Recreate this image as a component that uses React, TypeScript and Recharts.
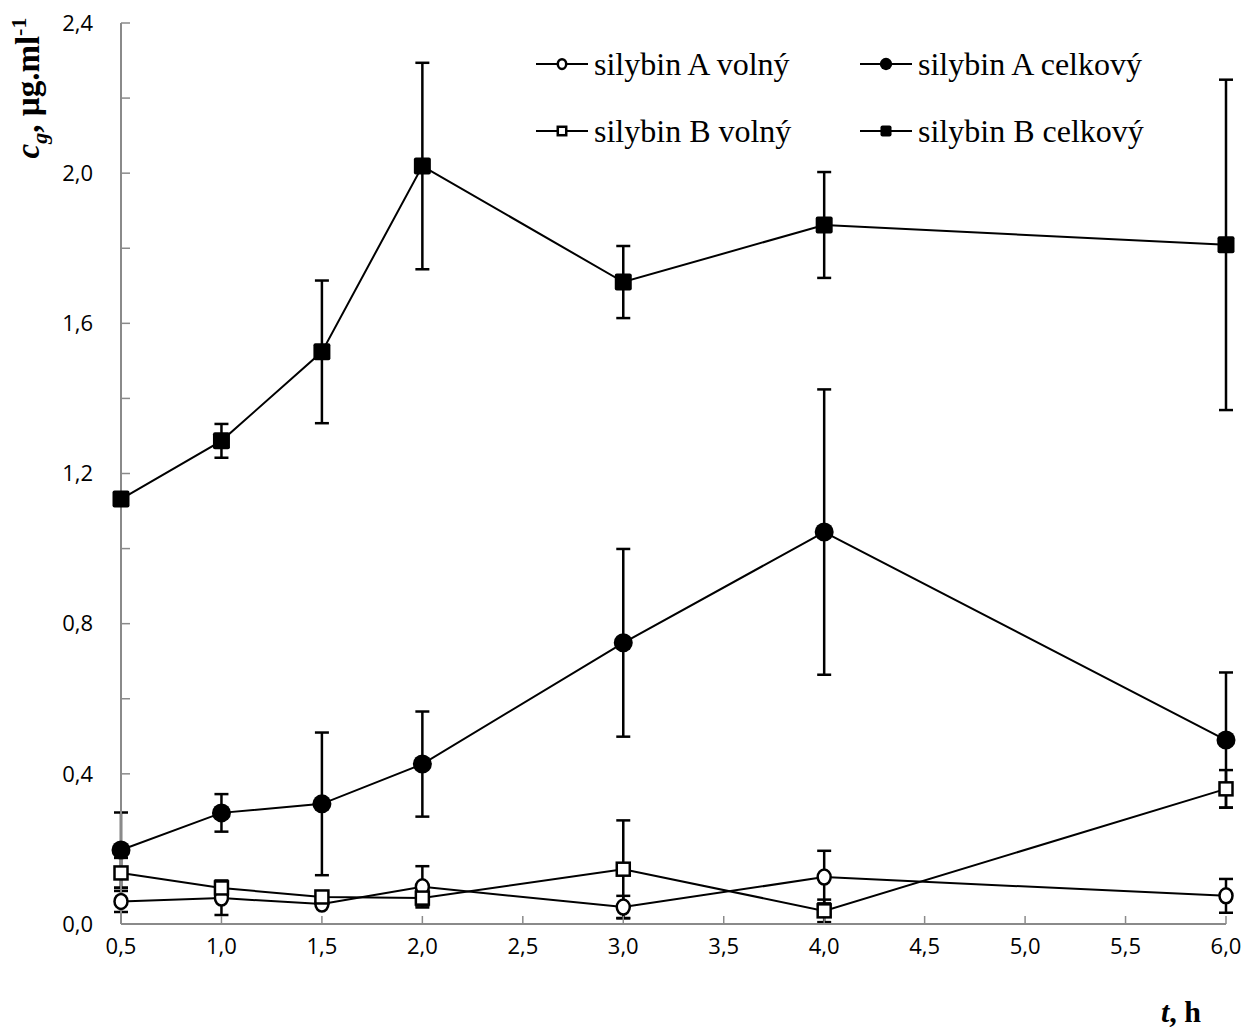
import React from "react";
import { LineChart, Line, XAxis, YAxis, ErrorBar, Legend } from "recharts";

// time points (h)
const times = [0.5, 1, 1.5, 2, 3, 4, 6];

// silybin A volny / celkovy
const aFree = [0.06, 0.069, 0.053, 0.099, 0.045, 0.125, 0.075];
const aFreeErr = [0.028, 0.045, null, 0.055, 0.03, 0.07, 0.045];
const aTotal = [0.197, 0.296, 0.32, 0.426, 0.749, 1.044, 0.49];
const aTotalErr = [0.1, 0.05, 0.19, 0.14, 0.25, 0.38, 0.18];

// silybin B volny / celkovy
const bFree = [0.136, 0.096, 0.072, 0.069, 0.146, 0.035, 0.36];
const bFreeErr = [0.04, 0.02, null, 0.02, 0.13, 0.03, 0.05];
const bTotal = [1.132, 1.287, 1.524, 2.019, 1.71, 1.862, 1.809];
const bTotalErr = [null, 0.045, 0.19, 0.275, 0.096, 0.141, 0.44];

const xTicks = [0.5, 1, 1.5, 2, 2.5, 3, 3.5, 4, 4.5, 5, 5.5, 6];
const yTicks = [0, 0.2, 0.4, 0.6, 0.8, 1, 1.2, 1.4, 1.6, 1.8, 2, 2.2, 2.4];

const legendItems = [
  { name: "silybin A volný", marker: "openCircle" },
  { name: "silybin A celkový", marker: "circle" },
  { name: "silybin B volný", marker: "openSquare" },
  { name: "silybin B celkový", marker: "square" },
];

const data = times.map((t, i) => ({
  t,
  aFree: aFree[i],
  aFreeErr: aFreeErr[i],
  aTotal: aTotal[i],
  aTotalErr: aTotalErr[i],
  bFree: bFree[i],
  bFreeErr: bFreeErr[i],
  bTotal: bTotal[i],
  bTotalErr: bTotalErr[i],
}));

const comma = (v: number) => v.toFixed(1).replace(".", ",");
const axisGray = "#8a8a8a";
const tickFont = { fontFamily: "'Open Sans', sans-serif", fontSize: 22, fill: "#000" };
const serif = "'Liberation Serif', 'Times New Roman', serif";

function Marker({ kind, cx, cy, small }: { kind: string; cx: number; cy: number; small?: boolean }) {
  const k = small ? 0.65 : 1;
  if (kind === "circle") return <circle cx={cx} cy={cy} r={9.5 * k} fill="#000" />;
  if (kind === "openCircle")
    return <ellipse cx={cx} cy={cy} rx={6.5 * k} ry={7.5 * k} fill="#fff" stroke="#000" strokeWidth={2.5} />;
  if (kind === "square") {
    const s = 17 * k;
    return <rect x={cx - s / 2} y={cy - s / 2} width={s} height={s} rx={2} fill="#000" />;
  }
  const s = 13 * k;
  return <rect x={cx - s / 2} y={cy - s / 2} width={s} height={s} fill="#fff" stroke="#000" strokeWidth={2.5} />;
}

const dotOf = (kind: string) => (p: any) =>
  p.cx == null ? <g key={p.index} /> : <Marker key={p.index} kind={kind} cx={p.cx} cy={p.cy} />;

function LegendBox() {
  return (
    <div
      style={{
        display: "grid",
        gridTemplateColumns: "324px 330px",
        rowGap: 27,
        fontFamily: serif,
        fontSize: 32,
        color: "#000",
      }}
    >
      {legendItems.map((it) => (
        <div key={it.name} style={{ display: "flex", alignItems: "center", height: 40 }}>
          <svg width={52} height={24} style={{ marginRight: 6 }}>
            <line x1={0} y1={12} x2={52} y2={12} stroke="#000" strokeWidth={2} />
            <Marker kind={it.marker} cx={26} cy={12} small />
          </svg>
          <span>{it.name}</span>
        </div>
      ))}
    </div>
  );
}

function YLabel() {
  const x = 39;
  const y = 88;
  return (
    <text
      x={x}
      y={y}
      transform={`rotate(-90, ${x}, ${y})`}
      textAnchor="middle"
      fontFamily={serif}
      fontSize={33}
      fontWeight="bold"
      fill="#000"
    >
      <tspan fontStyle="italic">c</tspan>
      <tspan fontStyle="italic" fontSize={22} dy={8}>g</tspan>
      <tspan dy={-8}>, µg.ml</tspan>
      <tspan fontSize={22} dy={-13}>-1</tspan>
    </text>
  );
}

function XLabel() {
  return (
    <text x={1161} y={1022} fontFamily={serif} fontSize={30} fontWeight="bold" fill="#000">
      <tspan fontStyle="italic">t</tspan>
      <tspan>, h</tspan>
    </text>
  );
}

export default function App() {
  return (
    <div style={{ position: "absolute", left: 0, top: 0, width: 1248, height: 1030, background: "#fff" }}>
      <LineChart width={1248} height={1030} data={data} margin={{ top: 23, right: 22, left: 61, bottom: 66 }}>
        <XAxis
          dataKey="t"
          type="number"
          domain={[0.5, 6]}
          ticks={xTicks}
          tickFormatter={comma}
          interval={0}
          height={40}
          axisLine={{ stroke: axisGray, strokeWidth: 2 }}
          tickLine={{ stroke: axisGray, strokeWidth: 1.5 }}
          tickSize={-8}
          tickMargin={22}
          tick={tickFont}
          label={{ content: () => <XLabel /> }}
        />
        <XAxis
          xAxisId="top"
          orientation="top"
          dataKey="t"
          type="number"
          domain={[0.5, 6]}
          height={0}
          tick={false}
          tickLine={false}
          axisLine={{ stroke: axisGray, strokeWidth: 2 }}
        />
        <YAxis
          type="number"
          domain={[0, 2.4]}
          ticks={yTicks}
          interval={0}
          width={60}
          tickFormatter={(v: number) => (Math.round(v * 10) % 4 === 0 ? comma(v) : "")}
          axisLine={{ stroke: axisGray, strokeWidth: 2 }}
          tickLine={{ stroke: axisGray, strokeWidth: 1.5 }}
          tickSize={-9}
          tickMargin={37}
          tick={tickFont}
          label={{ content: () => <YLabel /> }}
        />
        <YAxis
          yAxisId="right"
          orientation="right"
          domain={[0, 2.4]}
          width={0}
          tick={false}
          tickLine={false}
          axisLine={{ stroke: axisGray, strokeWidth: 2 }}
        />
        <Legend
          layout="horizontal"
          verticalAlign="middle"
          align="center"
          wrapperStyle={{ top: 44, left: 536, width: 680 }}
          content={() => <LegendBox />}
        />
        <Line dataKey="aFree" stroke="#000" strokeWidth={2} dot={dotOf("openCircle")} isAnimationActive={false}>
          <ErrorBar dataKey="aFreeErr" width={7} stroke="#000" strokeWidth={2.5} />
        </Line>
        <Line dataKey="bFree" stroke="#000" strokeWidth={2} dot={dotOf("openSquare")} isAnimationActive={false}>
          <ErrorBar dataKey="bFreeErr" width={7} stroke="#000" strokeWidth={2.5} />
        </Line>
        <Line dataKey="aTotal" stroke="#000" strokeWidth={2} dot={dotOf("circle")} isAnimationActive={false}>
          <ErrorBar dataKey="aTotalErr" width={7} stroke="#000" strokeWidth={2.5} />
        </Line>
        <Line dataKey="bTotal" stroke="#000" strokeWidth={2} dot={dotOf("square")} isAnimationActive={false}>
          <ErrorBar dataKey="bTotalErr" width={7} stroke="#000" strokeWidth={2.5} />
        </Line>
      </LineChart>
    </div>
  );
}
